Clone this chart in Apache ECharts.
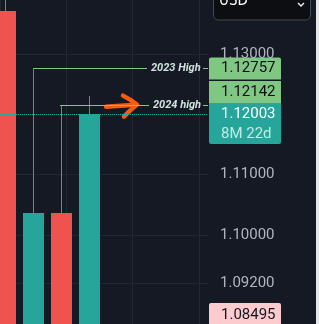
<!DOCTYPE html>
<html>
<head>
<meta charset="utf-8">
<script src="https://cdn.jsdelivr.net/npm/echarts@6/dist/echarts.min.js"></script>
<style>
html,body{margin:0;padding:0;background:#151924;}
#c{width:319px;height:324px;}
</style>
</head>
<body>
<div id="c"></div>
<script>
// ---- data (EURUSD yearly candles) ----
const years = ['2022', '2023', '2024', '2025'];
const openV  = [1.1370, 1.0705, 1.1037, 1.0354];
const closeV = [1.0705, 1.1037, 1.0354, 1.12003];
const lowV   = [0.9535, 1.0448, 1.0333, 1.0141];
const highV  = [1.1495, 1.12757, 1.12142, 1.1231];
const yTickLabels = [1.13, 1.11, 1.10, 1.092];
const yGridValues = [1.13, 1.12, 1.11, 1.10, 1.092];
const high2023 = 1.12757;
const high2024 = 1.12142;
const lastPrice = 1.12003;
const lowTag = 1.08495;
const countdown = '8M 22d';

// ---- layout ----
const BG = '#151924';
const PLOT_W = 208;
const PX_PER_BAR = 28;
const FIRST_CENTER = 5.5;
const xMin = -FIRST_CENTER / PX_PER_BAR;
const xMax = xMin + PLOT_W / PX_PER_BAR;
const pxToX = p => (p - FIRST_CENTER) / PX_PER_BAR;
const UP = '#26a69a', DOWN = '#ef5350', HIGHC = '#81c784';

const candleData = years.map((y, i) => [i, openV[i], closeV[i], lowV[i], highV[i]]);

const chart = echarts.init(document.getElementById('c'), null, {renderer: 'canvas'});

const hiLabel = (txt) => ({
  show: true, position: 'end', distance: 4, formatter: txt,
  color: '#cfe3dc', fontSize: 11, fontStyle: 'italic', fontWeight: 'bold',
  fontFamily: 'Roboto'
});

function renderCandle(params, api) {
  const x = api.value(0);
  const o = api.value(1), c = api.value(2), l = api.value(3), h = api.value(4);
  const pO = api.coord([x, o]), pC = api.coord([x, c]);
  const pL = api.coord([x, l]), pH = api.coord([x, h]);
  const w = Math.round(api.size([1, 0])[0] * 0.75);
  const col = c >= o ? UP : DOWN;
  const wx = Math.floor(pO[0]);
  const top = Math.min(pO[1], pC[1]), bot = Math.max(pO[1], pC[1]);
  return {
    type: 'group',
    children: [
      {type: 'rect', shape: {x: wx, y: Math.round(pH[1]), width: 1, height: Math.round(pL[1] - pH[1])},
       style: {fill: col}},
      {type: 'rect', shape: {x: wx - Math.floor(w / 2), y: Math.round(top), width: w, height: Math.max(1, bot - top)},
       style: {fill: col}}
    ]
  };
}

chart.setOption({
  animation: false,
  backgroundColor: BG,
  grid: [
    {left: 0, top: 0, width: PLOT_W, height: 324},
    {left: -50, top: 0, width: 249, height: 324}
  ],
  xAxis: [
    {type: 'value', gridIndex: 0, min: xMin, max: xMax,
     axisLine: {show: false}, axisTick: {show: false}, axisLabel: {show: false}, splitLine: {show: false}},
    {type: 'value', gridIndex: 1, min: 0, max: 3, interval: 1,
     axisLine: {show: false}, axisTick: {show: false}, axisLabel: {show: false},
     splitLine: {show: true, lineStyle: {color: '#232733', width: 1}}}
  ],
  yAxis: [
    {type: 'value', gridIndex: 0, position: 'right', min: 1.0853, max: 1.1389,
     axisLine: {show: true, lineStyle: {color: '#2a2e39'}},
     axisTick: {show: false, customValues: yGridValues},
     axisLabel: {show: true, customValues: yTickLabels, margin: 12,
       formatter: v => v.toFixed(5), color: '#b2b5be', fontSize: 15, fontFamily: 'Roboto'},
     splitLine: {show: true, lineStyle: {color: '#232733', width: 1}}},
    {type: 'value', gridIndex: 1, min: 0, max: 1, show: false, splitLine: {show: false}}
  ],
  series: [{
    type: 'custom',
    name: 'EURUSD',
    xAxisIndex: 0, yAxisIndex: 0,
    data: candleData,
    encode: {x: 0, y: [1, 2, 3, 4]},
    renderItem: renderCandle,
    markLine: {
      silent: true, symbol: 'none', animation: false,
      data: [
        [{coord: [1, high2023], label: hiLabel('2023 High')}, {coord: [pxToX(147), high2023]}],
        [{coord: [pxToX(203), high2023], label: {show: false}}, {coord: [pxToX(208), high2023]}],
        [{coord: [2 - 1.5 / PX_PER_BAR, high2024], label: hiLabel('2024 high')}, {coord: [pxToX(149), high2024]}],
        [{coord: [pxToX(203), high2024], label: {show: false}}, {coord: [pxToX(208), high2024]}],
        {yAxis: lastPrice, label: {show: false}, lineStyle: {type: 'dotted', color: UP, width: 1}}
      ],
      lineStyle: {color: HIGHC, width: 1, type: 'solid'}
    }
  }]
});

// ---- price tags & decorations drawn via graphic, anchored to axis scale ----
const py = v => chart.convertToPixel({yAxisIndex: 0}, v);
const yHi23 = py(high2023), yHi24 = py(high2024), yLast = py(lastPrice), yLow = py(lowTag);
const TAG_X = 209, TAG_W = 72, TAG_H = 22, TXT_X = 221;
const lastTop = yLast - 11;
const lowTop = Math.min(yLow - 11, 303);
const tagFont = {fontSize: 15, fontFamily: 'Roboto'};
const tx = (x, y, t, fill) => ({type: 'text', x: x, y: y,
  style: Object.assign({text: t, fill: fill, textVerticalAlign: 'middle', textAlign: 'left'}, tagFont)});

const tipY = yHi24 - 1;
chart.setOption({
  graphic: [
    // price tags
    {type: 'rect', shape: {x: TAG_X, y: yHi23 - 11, width: TAG_W, height: TAG_H, r: [2,2,0,0]}, style: {fill: HIGHC}},
    tx(TXT_X, yHi23, high2023.toFixed(5), '#0f0f0f'),
    {type: 'rect', shape: {x: TAG_X, y: lastTop - TAG_H, width: TAG_W, height: TAG_H}, style: {fill: HIGHC}},
    tx(TXT_X, lastTop - TAG_H / 2, high2024.toFixed(5), '#0f0f0f'),
    {type: 'rect', shape: {x: TAG_X, y: lastTop, width: TAG_W, height: 41, r: [0,0,2,2]}, style: {fill: UP}},
    tx(TXT_X, yLast + 0.5, lastPrice.toFixed(5), '#ffffff'),
    tx(TXT_X, yLast + 20.5, countdown, '#c2ebe5'),
    {type: 'rect', shape: {x: TAG_X, y: lowTop, width: TAG_W, height: 30, r: 2}, style: {fill: '#fccbcd'}},
    tx(TXT_X, lowTop + 12, lowTag.toFixed(5), '#131722'),
    // USD currency box
    {type: 'rect', shape: {x: 213.5, y: -10, width: 97, height: 30, r: 5},
     style: {fill: '#0d0e11', stroke: '#454955', lineWidth: 1}},
    {type: 'text', x: 219, y: 9, style: {text: 'USD', fill: '#ffffff', fontSize: 15,
      fontFamily: 'DejaVu Sans Condensed', textVerticalAlign: 'bottom'}},
    {type: 'polyline', shape: {points: [[298, 3], [301, 6], [304, 3]]},
     style: {stroke: '#e8e8e8', lineWidth: 1.5, fill: null}},
    // right light strip
    {type: 'rect', shape: {x: 316, y: 0, width: 3, height: 324}, style: {fill: '#e6e7ea'}},
    // hand-drawn orange arrow
    {type: 'polyline', shape: {points: [[106, tipY + 2], [121, tipY + 1], [136, tipY]]},
     style: {stroke: '#fb5a10', lineWidth: 4.5, lineCap: 'round', lineJoin: 'round', fill: null}},
    {type: 'polyline', shape: {points: [[123, tipY - 9], [130, tipY - 5], [137, tipY], [130, tipY + 6], [124, tipY + 12]]},
     style: {stroke: '#fb5a10', lineWidth: 4.5, lineCap: 'round', lineJoin: 'round', fill: null}}
  ]
});
</script>
</body>
</html>
